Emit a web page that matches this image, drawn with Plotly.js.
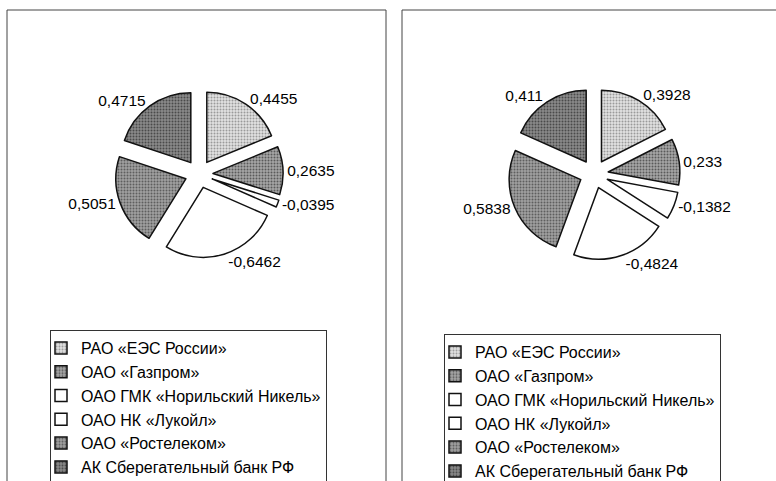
<!DOCTYPE html>
<html>
<head>
<meta charset="utf-8">
<script src="https://cdn.plot.ly/plotly-3.0.1.min.js"></script>
<style>
html,body{margin:0;padding:0;background:#fff;}
#chart{width:776px;height:481px;}
</style>
</head>
<body>
<div id="chart"></div>
<script>
const companies = [
  'РАО «ЕЭС России»',
  'ОАО «Газпром»',
  'ОАО ГМК «Норильский Никель»',
  'ОАО НК «Лукойл»',
  'ОАО «Ростелеком»',
  'АК Сберегательный банк РФ'
];
const valuesLeft  = [0.4455, 0.2635, -0.0395, -0.6462, 0.5051, 0.4715];
const valuesRight = [0.3928, 0.233, -0.1382, -0.4824, 0.5838, 0.411];

const sliceColors = ['#e2e2e2', '#a6a6a6', '#ffffff', '#ffffff', '#a0a0a0', '#8a8a8a'];
const dotColors   = ['#9a9a9a', '#5a5a5a', '#ffffff', '#ffffff', '#5e5e5e', '#4a4a4a'];

const fmt = v => String(v).replace('.', ',');
const font = 'Liberation Sans, Arial, sans-serif';

// the right pie gets invisibly distinct labels so that its own legend is drawn too
function pieTrace(vals, labels, domain, legendId) {
  return {
    type: 'pie',
    labels: labels,
    values: vals.map(Math.abs),
    text: vals.map(fmt),
    textinfo: 'text',
    textposition: 'outside',
    textfont: {family: font, size: 15.5, color: '#000'},
    sort: false,
    direction: 'clockwise',
    rotation: 0,
    pull: 0.2,
    hole: 0,
    domain: domain,
    legend: legendId,
    marker: {
      colors: sliceColors,
      line: {color: '#111', width: 1.5},
      pattern: {shape: '.', fgcolor: dotColors, bgcolor: sliceColors, size: 3, solidity: 0.35}
    },
    hoverinfo: 'label+text'
  };
}

const data = [
  pieTrace(valuesLeft, companies, {x: [0.1482, 0.3647], y: [0.4636, 0.8129]}, 'legend'),
  pieTrace(valuesRight, companies.map(s => s + '\u200B'), {x: [0.6546, 0.8763], y: [0.4595, 0.8170]}, 'legend2')
];

const legendStyle = {
  font: {family: font, size: 16, color: '#000'},
  bgcolor: '#fff',
  bordercolor: '#333',
  borderwidth: 1,
  xref: 'container',
  yref: 'container',
  xanchor: 'left',
  yanchor: 'top',
  indentation: -10,
  tracegroupgap: 0,
  itemclick: false
};

const layout = {
  width: 776,
  height: 481,
  margin: {l: 0, r: 0, t: 0, b: 0, autoexpand: false},
  paper_bgcolor: '#fff',
  plot_bgcolor: '#fff',
  showlegend: true,
  legend: Object.assign({}, legendStyle, {x: 50/776, y: (481-330)/481}),
  legend2: Object.assign({}, legendStyle, {x: 444/776, y: (481-334)/481}),
  shapes: [
    {type: 'rect', xref: 'paper', yref: 'paper', x0: 7/776, x1: 386/776, y0: -0.05, y1: (481-10)/481,
     line: {color: '#444', width: 1}},
    {type: 'rect', xref: 'paper', yref: 'paper', x0: 402/776, x1: 1.05, y0: -0.05, y1: (481-10)/481,
     line: {color: '#444', width: 1}}
  ]
};

Plotly.newPlot('chart', data, layout, {staticPlot: true});
</script>
</body>
</html>
